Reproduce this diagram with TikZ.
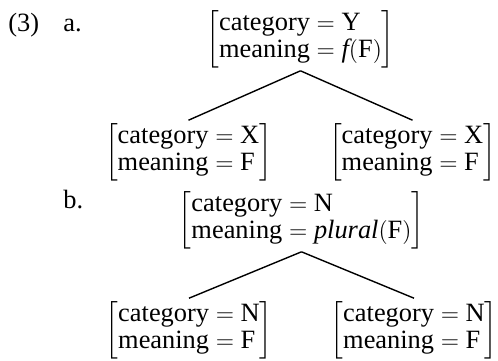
\documentclass[tikz,border=0pt]{standalone}
\usepackage{amsmath}
\usepackage{fontspec}
\setmainfont{Liberation Serif}
\usetikzlibrary{positioning}

\newcommand{\avm}[2]{\(\left[\begin{array}{@{}l@{}}\text{category} = \text{#1}\\ \text{meaning} = #2\end{array}\right]\)}

\begin{document}
\begin{tikzpicture}[
    x=0.5pt, y=-0.5pt,
    avm/.style={inner sep=0pt, outer sep=1.5pt, font=\fontsize{13.2}{13.5}\selectfont},
    lbl/.style={inner sep=0pt, anchor=base west, font=\fontsize{13.2}{13.5}\selectfont},
    branch/.style={line width=0.7pt}
]
\useasboundingbox (0,0) rectangle (498,360);
\node[lbl] (ex) at (8,31) {(3)};
\node[lbl] (la) at (63,31) {a.};
\node[lbl] (lb) at (63,208) {b.};
\node[avm] (a0) at (300.5,39) {\avm{Y}{\textit{f}(\text{F})}};
\node[avm] (a1) at (188.5,152) {\avm{X}{\text{F}}};
\node[avm] (a2) at (412.5,152) {\avm{X}{\text{F}}};
\node[avm] (b0) at (301.5,220) {\avm{N}{\textit{plural}(\text{F})}};
\node[avm] (b1) at (189,330) {\avm{N}{\text{F}}};
\node[avm] (b2) at (414,330) {\avm{N}{\text{F}}};
\draw[branch] (a0.south) -- (a1.north);
\draw[branch] (a0.south) -- (a2.north);
\draw[branch] (b0.south) -- (b1.north);
\draw[branch] (b0.south) -- (b2.north);
\end{tikzpicture}
\end{document}
